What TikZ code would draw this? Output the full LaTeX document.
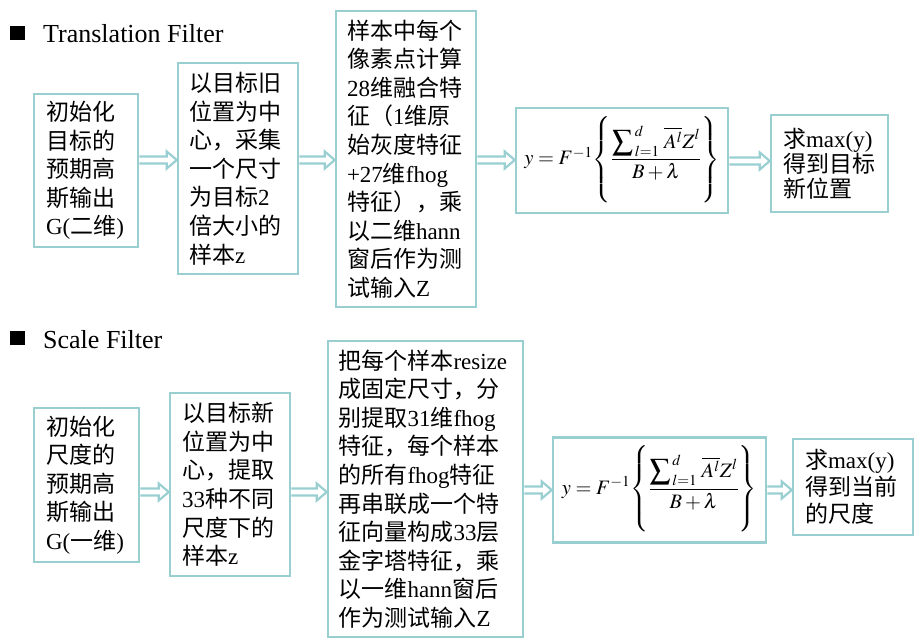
\documentclass[tikz,border=0pt]{standalone}
\usepackage{amsmath}
\usepackage{mathptmx}
\usepackage[no-math]{fontspec}
\setmainfont{Liberation Serif}
\newfontfamily\cjk{Noto Sans CJK SC}
\usetikzlibrary{calc}
\definecolor{tealc}{RGB}{154,207,210}
\newcommand\lt[1]{{\rmfamily #1}}
\newcommand\harrow[3]{\draw[arrowsty] let \p1=(#1.east), \p2=(#2.west), \p3=(0,#3) in
  (\x1,\y3+3.5pt) -- (\x2-10pt,\y3+3.5pt) -- (\x2-10pt,\y3+8.5pt) -- (\x2,\y3)
  -- (\x2-10pt,\y3-8.5pt) -- (\x2-10pt,\y3-3.5pt) -- (\x1,\y3-3.5pt);}
\newcommand\formula{\makebox[204pt][c]{$y=F^{-1}\!\left\{\rule[-40pt]{0pt}{84pt}\dfrac{\displaystyle\sum\nolimits_{\,l=1}^{\,d}\,\overline{A^{l}}Z^{l}}{B+\lambda}\right\}$}}
\tikzset{
  box/.style={draw=tealc, line width=2.5pt, inner xsep=0pt, inner ysep=2pt, align=left,
    font=\cjk\fontsize{23}{28.6}\selectfont},
  fbox/.style={draw=tealc, line width=2.5pt, inner sep=0pt,
    font=\fontsize{20.5}{25}\selectfont},
  arrowsty/.style={draw=tealc, line width=2.2pt, line join=miter},
  title/.style={anchor=base west, inner sep=0pt, font=\fontsize{26}{30}\selectfont},
  bullet/.style={fill=black, inner sep=0pt, minimum width=15pt, minimum height=14pt}
}
\begin{document}
\begin{tikzpicture}[x=1pt,y=-1pt]
\useasboundingbox (0,0) rectangle (920,644);
% Translation filter
\node[bullet] (b1) at (17.5,33) {};
\node[title] (t1) at (43,43) {Translation Filter};
\node[box, minimum width=104pt, minimum height=153pt, text width=80pt] (a1) at (86,170.5)
  {初始化\\目标的\\预期高\\斯输出\\\lt{G(}二维\lt{)}};
\node[box, minimum width=120pt, minimum height=211pt, text width=98pt] (a2) at (238,168.5)
  {以目标旧\\位置为中\\心，采集\\一个尺寸\\为目标\lt{2}\\倍大小的\\样本\lt{z}};
\node[box, minimum width=140pt, minimum height=296pt, text width=118pt] (a3) at (406,159)
  {样本中每个\\像素点计算\\\lt{28}维融合特\\征（\lt{1}维原\\始灰度特征\\\lt{+27}维\lt{fhog}\\特征），乘\\以二维\lt{hann}\\窗后作为测\\试输入\lt{Z}};
\node[fbox, minimum width=212pt, minimum height=105pt] (a4) at (622,160.5) {\formula};
\node[box, minimum width=117pt, minimum height=97pt, text width=93pt,
  font=\cjk\fontsize{23}{25}\selectfont] (a5) at (829.5,163.5)
  {求\lt{max(y)}\\得到目标\\新位置};
\harrow{a1}{a2}{160}
\harrow{a2}{a3}{160}
\harrow{a3}{a4}{160}
\harrow{a4}{a5}{161}
% Scale filter
\node[bullet] (b2) at (17.5,338) {};
\node[title] (t2) at (43,348) {Scale Filter};
\node[box, minimum width=105pt, minimum height=154pt, text width=81pt] (c1) at (86.5,485)
  {初始化\\尺度的\\预期高\\斯输出\\\lt{G(}一维\lt{)}};
\node[box, minimum width=120pt, minimum height=183pt, text width=96pt] (c2) at (230,484.5)
  {以目标新\\位置为中\\心，提取\\\lt{33}种不同\\尺度下的\\样本\lt{z}};
\node[box, minimum width=195pt, minimum height=296pt, text width=174pt] (c3) at (425.5,489)
  {把每个样本\lt{resize}\\成固定尺寸，分\\别提取\lt{31}维\lt{fhog}\\特征，每个样本\\的所有\lt{fhog}特征\\再串联成一个特\\征向量构成\lt{33}层\\金字塔特征，乘\\以一维\lt{hann}窗后\\作为测试输入\lt{Z}};
\node[fbox, minimum width=213pt, minimum height=105pt] (c4) at (659.5,490) {\formula};
\node[box, minimum width=120pt, minimum height=96pt, text width=96pt,
  font=\cjk\fontsize{23}{27}\selectfont] (c5) at (853,487)
  {求\lt{max(y)}\\得到当前\\的尺度};
\harrow{c1}{c2}{492}
\harrow{c2}{c3}{492}
\harrow{c3}{c4}{490}
\harrow{c4}{c5}{490}
\end{tikzpicture}
\end{document}
